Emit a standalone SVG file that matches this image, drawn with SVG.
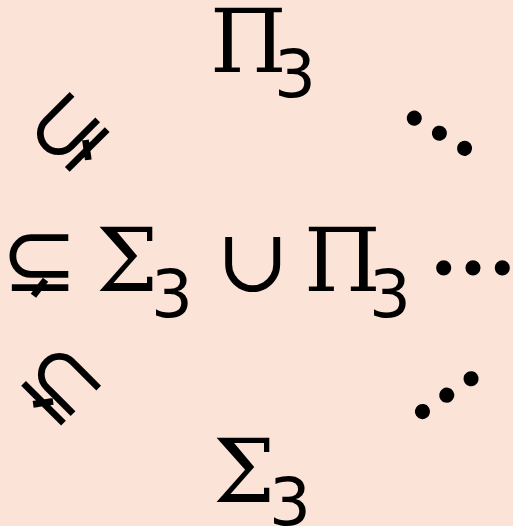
<svg xmlns="http://www.w3.org/2000/svg" width="513" height="526" viewBox="0 0 513 526">
<style>
.t{font-family:"DejaVu Serif",serif;fill:#000}
.b{font-size:88px}
.s{font-size:66px;font-family:"DejaVu Sans",sans-serif}
.r{font-size:88px}
.e{font-size:88px;font-family:"Noto Sans CJK JP","DejaVu Sans",sans-serif;stroke:#000;stroke-width:3.5;stroke-linejoin:round}
.q{font-size:92px;font-family:"DejaVu Sans",sans-serif}
</style>
<rect width="513" height="526" fill="#fbe4d7"/>
<g id="top"><text class="t b" x="210" y="72">Π</text><text class="t s" x="274" y="97">3</text></g>
<g id="ul"><text class="t q" transform="translate(67,130) rotate(-45)" text-anchor="middle" dominant-baseline="central">⊊</text></g>
<g id="ur"><text class="t e" transform="translate(442,129) rotate(31)" text-anchor="middle" dominant-baseline="central">⋯</text></g>
<g id="mid">
<text class="t q" x="1" y="291">⊊</text>
<text class="t b" x="96" y="291">Σ</text><text class="t s" x="151" y="317">3</text>
<text class="t r" x="216" y="291">∪</text>
<text class="t b" x="304" y="291">Π</text><text class="t s" x="369" y="317">3</text>
<text class="t e" x="473" y="262" text-anchor="middle" dominant-baseline="central">⋯</text>
</g>
<g id="ll"><text class="t q" transform="translate(63,383) rotate(45)" text-anchor="middle" dominant-baseline="central">⊊</text></g>
<g id="lr"><text class="t e" transform="translate(444,391) rotate(-34)" text-anchor="middle" dominant-baseline="central">⋯</text></g>
<g id="bottom"><text class="t b" x="213" y="502">Σ</text><text class="t s" x="269" y="525">3</text></g>
<g id="connectors"/>
</svg>
